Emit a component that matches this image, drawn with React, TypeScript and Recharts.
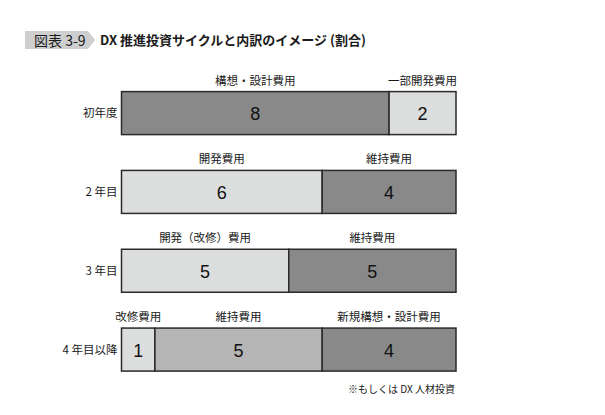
import React from 'react';
import { BarChart, Bar, XAxis, YAxis, Cell } from 'recharts';

const years = ['初年度', '2 年目', '3 年目', '4 年目以降'];
const firstValues = [8, 6, 5, 1];
const secondValues = [2, 4, 5, 5];
const thirdValues = [0, 0, 0, 4];
const firstNames = ['構想・設計費用', '開発費用', '開発（改修）費用', '改修費用'];
const secondNames = ['一部開発費用', '維持費用', '維持費用', '維持費用'];
const thirdNames = ['', '', '', '新規構想・設計費用'];

const DARK = '#898989';
const MID = '#b5b5b5';
const LIGHT = '#dcdddd';
const fills = [
  [DARK, LIGHT, LIGHT, LIGHT],
  [LIGHT, DARK, DARK, MID],
  [DARK, DARK, DARK, DARK],
];

const FONT = '"Noto Sans CJK JP", "Noto Sans", sans-serif';
const NUM_FONT = '"Liberation Sans", Arial, sans-serif';

const data = years.map((year, i) => ({
  year,
  s1: firstValues[i],
  s2: secondValues[i],
  s3: thirdValues[i],
  n1: firstNames[i],
  n2: secondNames[i],
  n3: thirdNames[i],
}));

const makeShape = (k: number) => (props: any) => {
  const { x, y, width, height, fill, payload } = props;
  const value = payload[`s${k}`];
  if (!value || !width) return <g />;
  const cx = x + width / 2;
  return (
    <g>
      <rect x={x} y={y} width={width} height={height} fill={fill} stroke="#2a2a2a" strokeWidth={1.5} />
      <text x={cx} y={y + height / 2 + 1} textAnchor="middle" dominantBaseline="central"
        fontSize={18} fontFamily={NUM_FONT} fill="#111">
        {value}
      </text>
      <text x={cx} y={y - 12} textAnchor="middle" dominantBaseline="central"
        fontSize={11.5} fontFamily={FONT} fill="#1a1a1a">
        {payload[`n${k}`]}
      </text>
    </g>
  );
};

export default function App() {
  return (
    <div style={{ position: 'absolute', left: 0, top: 0, width: 605, height: 415, background: '#fff', fontFamily: FONT }}>
      <div
        style={{
          position: 'absolute', left: 25, top: 31, width: 70, height: 18, background: '#cfcfcf',
          clipPath: 'polygon(0 0, 63px 0, 70px 50%, 63px 100%, 0 100%)',
        }}
      />
      <div style={{ position: 'absolute', left: 34, top: 31, height: 18, lineHeight: '18px', fontSize: 14, color: '#1a1a1a' }}>
        図表 3-9
      </div>
      <div style={{ position: 'absolute', left: 100, top: 31, height: 18, lineHeight: '18px', fontSize: 13, fontWeight: 'bold', color: '#1a1a1a', whiteSpace: 'nowrap' }}>
        DX 推進投資サイクルと内訳のイメージ (割合)
      </div>
      <BarChart
        width={605}
        height={415}
        data={data}
        layout="vertical"
        margin={{ top: 73.6, right: 149, bottom: 26.1, left: 0 }}
      >
        <XAxis type="number" domain={[0, 10]} hide />
        <YAxis
          type="category"
          dataKey="year"
          width={121.5}
          axisLine={false}
          tickLine={false}
          tickSize={0}
          tickMargin={4}
          tick={{ fontSize: 11.5, fill: '#1a1a1a', fontFamily: FONT }}
        />
        {[1, 2, 3].map((k) => (
          <Bar key={k} dataKey={`s${k}`} stackId="a" barSize={43} shape={makeShape(k)} isAnimationActive={false}>
            {data.map((_, i) => (
              <Cell key={i} fill={fills[k - 1][i]} />
            ))}
          </Bar>
        ))}
      </BarChart>
      <div style={{ position: 'absolute', right: 150, top: 381, fontSize: 10, color: '#1a1a1a', whiteSpace: 'nowrap' }}>
        ※もしくは DX 人材投資
      </div>
    </div>
  );
}
